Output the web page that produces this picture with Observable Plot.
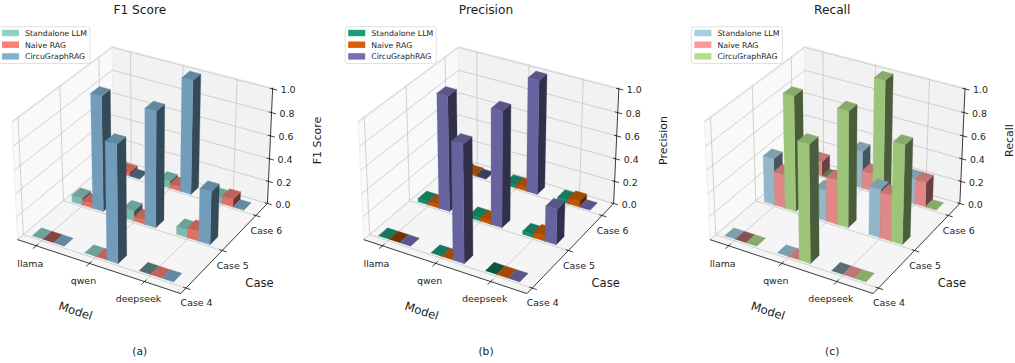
<!DOCTYPE html>
<html><head><meta charset="utf-8">
<script src="https://cdn.jsdelivr.net/npm/d3@7"></script>
<script src="https://cdn.jsdelivr.net/npm/@observablehq/plot@0.6"></script>
<style>html,body{margin:0;padding:0;background:#fff}svg{display:block}</style>
</head><body><div id="chart"></div>
<script>
const models = ["llama", "qwen", "deepseek"];
const cases = ["Case 4", "Case 5", "Case 6"];
const seriesNames = ["Standalone LLM", "Naive RAG", "CircuGraphRAG"];
const zTicks = [0, 0.2, 0.4, 0.6, 0.8, 1.0];

// values in the order: Case 4 (llama, qwen, deepseek), Case 5 (...), Case 6 (...)
const f1Standalone = [0, 0, 0,   0.06, 0.09, 0.07,  0.03, 0.06, 0.05];
const f1Naive      = [0, 0, 0,   0.04, 0.04, 0.09,  0.03, 0.04, 0.07];
const f1Circu      = [0, 1.0, 0,  1.0, 1.0, 0.46, 0, 1.0, 0];
const precStandalone = [0, 0, 0,   0.03, 0.03, 0.03,  0.02, 0.03, 0.03];
const precNaive      = [0, 0, 0,   0.03, 0.03, 0.05,  0.01, 0.03, 0.05];
const precCircu      = [0, 1.0, 0,  1.0, 1.0, 0.31, 0, 1.0, 0];
const recStandalone = [0, 0, 0,   0.41, 0.27, 0.42,  0.13, 0.33, 0.22];
const recNaive      = [0, 0, 0,   0.30, 0.39, 0.40,  0.13, 0.16, 0.22];
const recCircu      = [0, 1.0, 0,  1.0, 1.0, 0.85, 0, 1.0, 0];

const panels = [
  {metric: "F1 Score", tag: "(a)", values: [f1Standalone, f1Naive, f1Circu], colors: ["#8dd3c7", "#fb8072", "#80b1d3"]},
  {metric: "Precision", tag: "(b)", values: [precStandalone, precNaive, precCircu], colors: ["#1b9e77", "#d95f02", "#7570b3"]},
  {metric: "Recall", tag: "(c)", values: [recStandalone, recNaive, recCircu], colors: ["#a6cee3", "#fb9a99", "#b2df8a"]}
];
// flat (zero height) bars whose underside is the face drawn last: case, model, series
const flatUnderside = ["0|0|1", "0|2|0", "2|0|2"];

// ---- matplotlib-style 3D view (elev 30, azim -60, dist 10) ----
const W = 1015, H = 363, PANEL_STEP = 346.2;
const SX = 1571, SY = 1590, OX = 144.3, OY = 160.6;
const xlim = [-0.16, 2.84], ylim = [-0.14, 2.36], zTop = 1.01;
const barW = 0.205, barD = 0.225, barShiftX = -0.02, barShiftY = 0.04;
const HX = 0.595, HZ = 0.4465, ZSPAN = 0.893 * 0.955;
const elev = Math.PI / 6, azim = -Math.PI / 3;
const w3 = [Math.cos(elev) * Math.cos(azim), Math.cos(elev) * Math.sin(azim), Math.sin(elev)];
const u3 = [-w3[1], w3[0], 0].map(v => v / Math.hypot(w3[0], w3[1]));
const v3 = [w3[1] * u3[2] - w3[2] * u3[1], w3[2] * u3[0] - w3[0] * u3[2], w3[0] * u3[1] - w3[1] * u3[0]];
const dot = (a, b) => a[0] * b[0] + a[1] * b[1] + a[2] * b[2];
function box(x, y, z) {
  return [
    (x - xlim[0]) / (xlim[1] - xlim[0]) * 2 * HX - HX,
    (y - ylim[0]) / (ylim[1] - ylim[0]) * 2 * HX - HX,
    -HZ + z / zTop * ZSPAN
  ];
}
function project(x, y, z, panel) {
  const p = box(x, y, z), d = 10 - dot(w3, p);
  return {px: dot(u3, p) / d + panel * PANEL_STEP / SX, py: dot(v3, p) / d};
}
const seg = (a, b, panel, extra) => {
  const A = project(...a, panel), B = project(...b, panel);
  return {x1: A.px, y1: A.py, x2: B.px, y2: B.py, ...extra};
};
const shadeColor = (hex, k) => {
  const c = d3.rgb(hex);
  return d3.rgb(c.r * k, c.g * k, c.b * k).formatHex();
};
const SHADE = {front: 0.8833, right: 0.4167, top: 0.7667, under: 0.5333};

const [x0, x1] = xlim, [y0, y1] = ylim;
const xTicks = models.map((_, i) => i + 0.2);
const yTicks = cases.map((_, k) => k);

const polys = [], panes = [], grid = [], axes = [], texts = [];
const pxX = p => (p - OX) / SX, pxY = p => (OY - p) / SY;

panels.forEach((P, pn) => {
  const off = pn * PANEL_STEP;
  const addPane = (id, corners, fill) => corners.concat([corners[0]]).forEach(c => {
    const q = project(...c, pn);
    panes.push({id: pn + id, x: q.px, y: q.py, fill});
  });
  addPane("L", [[x0, y0, 0], [x0, y1, 0], [x0, y1, zTop], [x0, y0, zTop]], "#f9f9f9");
  addPane("B", [[x0, y1, 0], [x1, y1, 0], [x1, y1, zTop], [x0, y1, zTop]], "#f2f2f2");
  addPane("F", [[x0, y0, 0], [x1, y0, 0], [x1, y1, 0], [x0, y1, 0]], "#f5f5f5");

  xTicks.forEach(t => {
    grid.push(seg([t, y0, 0], [t, y1, 0], pn));
    grid.push(seg([t, y1, 0], [t, y1, zTop], pn));
    axes.push(seg([t, y0 - 0.08, 0], [t, y0 + 0.05, 0], pn));
  });
  yTicks.forEach(t => {
    grid.push(seg([x0, t, 0], [x1, t, 0], pn));
    grid.push(seg([x0, t, 0], [x0, t, zTop], pn));
    axes.push(seg([x1 - 0.05, t, 0], [x1 + 0.08, t, 0], pn));
  });
  zTicks.forEach(t => {
    grid.push(seg([x0, y0, t], [x0, y1, t], pn));
    grid.push(seg([x0, y1, t], [x1, y1, t], pn));
    axes.push(seg([x1 - 0.05, y1, t], [x1 + 0.08, y1, t], pn));
  });
  axes.push(seg([x0, y0, 0], [x1, y0, 0], pn));
  axes.push(seg([x1, y0, 0], [x1, y1, 0], pn));
  axes.push(seg([x1, y1, 0], [x1, y1, zTop], pn));

  // bars, back to front
  const bars = [];
  cases.forEach((_, k) => models.forEach((_, i) => P.values.forEach((vals, j) => {
    const h = vals[k * 3 + i];
    const bx = i + j * barW + barShiftX, by = k + barShiftY;
    const c = box(bx + barW / 2, by + barD / 2, 0);
    bars.push({k, i, j, h, bx, by, depth: dot(w3, c), color: P.colors[j]});
  })));
  bars.sort((a, b) => a.depth - b.depth);
  bars.forEach(b => {
    const id = `${pn}-${b.k}-${b.i}-${b.j}`;
    const a = b.bx, e = b.bx + barW, f = b.by, g = b.by + barD, h = b.h;
    const face = (name, corners, k) => corners.concat([corners[0]]).forEach(cn => {
      const q = project(...cn, pn);
      polys.push({id: id + name, x: q.px, y: q.py, fill: shadeColor(b.color, k)});
    });
    if (h === 0) {
      const under = flatUnderside.includes(`${b.k}|${b.i}|${b.j}`);
      face("t", [[a, f, 0], [e, f, 0], [e, g, 0], [a, g, 0]], under ? SHADE.under : SHADE.top);
    } else {
      face("r", [[e, f, 0], [e, g, 0], [e, g, h], [e, f, h]], SHADE.right);
      face("f", [[a, f, 0], [e, f, 0], [e, f, h], [a, f, h]], SHADE.front);
      face("t", [[a, f, h], [e, f, h], [e, g, h], [a, g, h]], SHADE.top);
    }
  });

  xTicks.forEach((t, i) => {
    const q = project(t, y0, 0, pn);
    texts.push({x: q.px, y: q.py, text: models[i], size: 9.4, dx: -6, dy: 17.8});
  });
  yTicks.forEach((t, i) => {
    const q = project(x1, t, 0, pn);
    texts.push({x: q.px, y: q.py, text: cases[i], size: 9.4, dx: 10.5, dy: 15});
  });
  zTicks.forEach(t => {
    const q = project(x1, y1, t, pn);
    texts.push({x: q.px, y: q.py, text: t.toFixed(1), size: 9.4, dx: 15.5, dy: 1.2});
  });
  const lay = (px, py, text, size, rotate = 0) =>
    texts.push({x: pxX(px + off), y: pxY(py), text, size, dx: 0, dy: 0, rotate});
  lay(139.3, 10, P.metric, 12.2);
  lay(139.3, 350.7, P.tag, 10.7);
  lay(75, 310.7, "Model", 11.6, 18);
  lay(259, 282.3, "Case", 11.6);
  lay(316.5, 140, P.metric, 11, -90);
});

// legend layout
const legendBoxes = [], legendPatches = [], legendTexts = [];
panels.forEach((P, pn) => {
  const off = pn * PANEL_STEP - 1;
  legendBoxes.push({x1: pxX(off), x2: pxX(off + 91), y1: pxY(26.7), y2: pxY(63.5)});
  seriesNames.forEach((s, j) => {
    const cy = 33 + j * 11.7;
    legendPatches.push({x1: pxX(off + 3), x2: pxX(off + 20), y1: pxY(cy - 3.2), y2: pxY(cy + 3.2), fill: P.colors[j]});
    legendTexts.push({x: pxX(off + 25.5), y: pxY(cy), text: s});
  });
});

const font = "DejaVu Sans";
const chart = Plot.plot({
  width: W, height: H, margin: 0,
  x: {domain: [pxX(0), pxX(W)], range: [0, W], axis: null},
  y: {domain: [pxY(H), pxY(0)], range: [H, 0], axis: null},
  color: {type: "identity"},
  style: {fontFamily: font, background: "#fff"},
  marks: [
    Plot.line(panes, {x: "x", y: "y", z: "id", fill: "fill", stroke: "#ececec", strokeWidth: 0.8}),
    Plot.link(grid, {x1: "x1", y1: "y1", x2: "x2", y2: "y2", stroke: "#c6c6c6", strokeWidth: 0.8}),
    Plot.link(axes, {x1: "x1", y1: "y1", x2: "x2", y2: "y2", stroke: "#000", strokeWidth: 0.75}),
    Plot.line(polys, {x: "x", y: "y", z: "id", fill: "fill", stroke: "fill", strokeWidth: 0.3}),
    ...d3.groups(texts, d => `${d.size}|${d.dx}|${d.dy}|${d.rotate || 0}`).map(([, t]) =>
      Plot.text(t, {x: "x", y: "y", text: "text", fontSize: t[0].size, dx: t[0].dx, dy: t[0].dy, rotate: t[0].rotate || 0, fill: "#1c1c1c", textAnchor: "middle", lineAnchor: "middle"})),
    Plot.rect(legendBoxes, {x1: "x1", x2: "x2", y1: "y1", y2: "y2", fill: "#fff", fillOpacity: 0.8, stroke: "#d4d4d4", strokeWidth: 0.7, rx: 2}),
    Plot.rect(legendPatches, {x1: "x1", x2: "x2", y1: "y1", y2: "y2", fill: "fill"}),
    Plot.text(legendTexts, {x: "x", y: "y", text: "text", fontSize: 7.8, fill: "#1c1c1c", textAnchor: "start", lineAnchor: "middle"})
  ]
});
document.getElementById("chart").appendChild(chart);
</script>
</body></html>
